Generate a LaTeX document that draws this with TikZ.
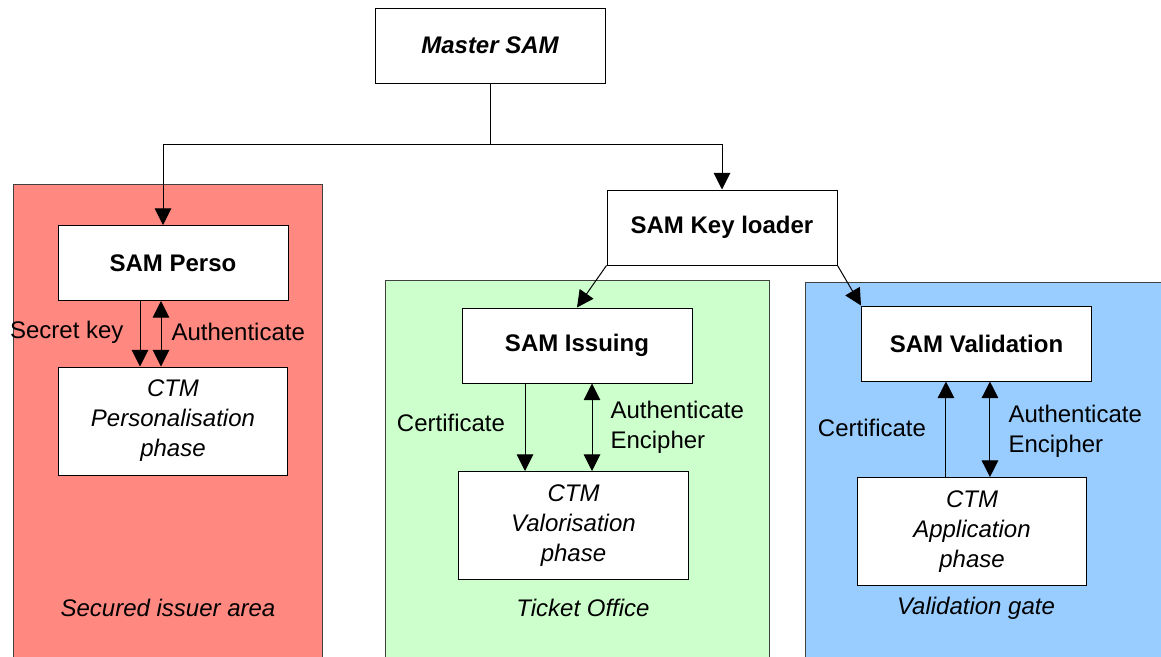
\documentclass[tikz,border=0pt]{standalone}
\usepackage{fontspec}
\setmainfont{Liberation Sans}
\usetikzlibrary{arrows.meta,positioning}

\definecolor{issuerred}{RGB}{255,136,128}
\definecolor{officegreen}{RGB}{204,255,204}
\definecolor{gateblue}{RGB}{153,204,255}

\begin{document}
\begin{tikzpicture}[%
      x=0.75pt, y=-0.75pt,
      every node/.style={inner sep=0pt, font=\fontsize{18}{22.5}\selectfont},
      sam/.style={draw, fill=white, minimum width=172.5pt, minimum height=56.25pt,
                  font=\fontsize{18}{22.5}\selectfont\bfseries},
      ctm/.style={draw, fill=white, minimum width=172pt, minimum height=81pt, align=center,
                  font=\fontsize{18}{22.5}\selectfont\itshape},
      zone/.style={draw=black!75},
      line width=0.75pt,
      >={Triangle[length=12.5pt,width=12.5pt]}
    ]
    \useasboundingbox (0,0) rectangle (1161,657);

    % the three zones
    \filldraw[zone, fill=issuerred]   (13,184) rectangle (322,662);
    \filldraw[zone, fill=officegreen] (385,280) rectangle (769,662);
    \filldraw[zone, fill=gateblue]    (805,282) rectangle (1162,662);

    \node (z1) at (168,608) {\itshape Secured issuer area};
    \node (z2) at (583,608) {\itshape Ticket Office};
    \node (z3) at (976,608) {\itshape Validation gate};

    % SAMs and CTMs
    \node [sam] (0) at (490,45.5) {\itshape Master SAM};
    \node [sam] (2) at (722,227.5) {SAM Key loader};
    \node [sam] (1) at (173,263) {SAM Perso};
    \node [ctm] (11) at (173,421) {CTM\\Personalisation\\phase};
    \node [sam] (21) at (577,345.5) {SAM Issuing};
    \node [ctm] (211) at (573.5,525.5) {CTM\\Valorisation\\phase};
    \node [sam] (22) at (976.5,343.5) {SAM Validation};
    \node [ctm] (221) at (972,531.5) {CTM\\Application\\phase};

    % tree from the master
    \draw[->] (0.south) -- ++(0,61) -| ([xshift=-7.5pt]1.north);
    \draw[->] (0.south) -- ++(0,61) -| (2.north);
    \draw[->] (2.south west) -- (21.north);
    \draw[->] (2.south east) -- (22.north west);

    % personalisation
    \draw[->]  ([xshift=-24.75pt]1.south) -- ([xshift=-24.75pt]1.south |- 11.north);
    \draw[<->] ([xshift=-9pt]1.south) -- ([xshift=-9pt]1.south |- 11.north);
    \node [anchor=east] (l1) at (124,332) {Secret key};
    \node [anchor=west] (l2) at (171,332) {Authenticate};

    % issuing
    \draw[->]  ([xshift=-39pt]21.south) -- ([xshift=-39pt]21.south |- 211.north);
    \draw[<->] ([xshift=11.25pt]21.south) -- ([xshift=11.25pt]21.south |- 211.north);
    \node (l3) at (451,423) {Certificate};
    \node [anchor=west, align=left] (l4) at (610,427) {Authenticate\\Encipher};

    % validation
    \draw[<-]  ([xshift=-22.9pt]22.south) -- ([xshift=-22.9pt]22.south |- 221.north);
    \draw[<->] ([xshift=10.1pt]22.south) -- ([xshift=10.1pt]22.south |- 221.north);
    \node (l5) at (872,428) {Certificate};
    \node [anchor=west, align=left] (l6) at (1008,431) {Authenticate\\Encipher};
\end{tikzpicture}
\end{document}
